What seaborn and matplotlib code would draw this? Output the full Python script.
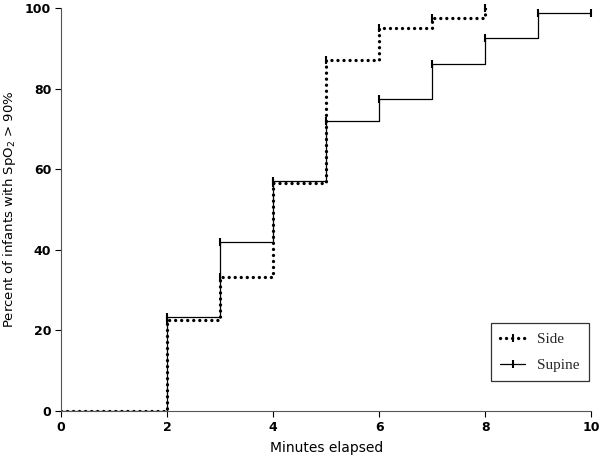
import pandas as pd
import matplotlib.pyplot as plt
import seaborn as sns

# step times (minutes) and cumulative percent reaching SpO2 > 90%
side_time = [0, 2, 3, 4, 5, 6, 7, 8]
side_pct = [0, 22.7, 33.3, 56.5, 87.2, 95.0, 97.4, 100.0]
supine_time = [0, 2, 3, 4, 5, 6, 7, 8, 9, 10]
supine_pct = [0, 23.2, 41.9, 57.0, 72.0, 77.3, 86.0, 92.5, 98.8, 98.8]

side = pd.DataFrame({'time': side_time, 'pct': side_pct})
supine = pd.DataFrame({'time': supine_time, 'pct': supine_pct})

sns.set_style('ticks')
fig = plt.figure(figsize=(6, 4.59), dpi=100)
ax = fig.add_axes([0.1017, 0.1046, 0.884, 0.878])

sns.lineplot(data=supine, x='time', y='pct', drawstyle='steps-post', color='black',
             linewidth=0.9, ax=ax, label='Supine')
sns.lineplot(data=side, x='time', y='pct', drawstyle='steps-post', color='black',
             linewidth=2.4, linestyle=(0, (0.01, 1.8)), ax=ax, label='Side')
for ln in ax.lines:
    ln.set_dash_capstyle('round')
# censor ticks at each step
sns.scatterplot(data=supine[1:], x='time', y='pct', marker='|', color='black', s=30,
                linewidth=1.5, ax=ax, legend=False, clip_on=False)
sns.scatterplot(data=side[1:], x='time', y='pct', marker='|', color='black', s=30,
                linewidth=1.5, ax=ax, legend=False, clip_on=False)

ax.set_xlim(0, 10)
ax.set_ylim(0, 100)
ax.set_xticks([0, 2, 4, 6, 8, 10])
ax.set_yticks([0, 20, 40, 60, 80, 100])
for lab in ax.get_xticklabels() + ax.get_yticklabels():
    lab.set_fontweight('bold')
    lab.set_fontsize(9)
ax.tick_params(direction='out', length=4, width=0.8, colors='black', pad=3)
for s in ['top', 'right']:
    ax.spines[s].set_visible(False)
for s in ['left', 'bottom']:
    ax.spines[s].set_color('#555555')
    ax.spines[s].set_linewidth(0.8)

ax.set_xlabel('Minutes elapsed', fontsize=10, color='black', labelpad=5)
ax.set_ylabel('Percent of infants with SpO$_2$ > 90%', fontsize=9.5, color='black', labelpad=5)

h, l = ax.get_legend_handles_labels()
order = [l.index('Side'), l.index('Supine')]
leg = ax.legend([h[i] for i in order], [l[i] for i in order], loc='lower right',
                bbox_to_anchor=(0.995, 0.074), borderaxespad=0, fancybox=False,
                edgecolor='black', prop={'family': 'Liberation Serif', 'size': 11},
                handlelength=1.6, borderpad=0.6, labelspacing=0.8, handletextpad=0.8,
                numpoints=1)
leg.get_frame().set_linewidth(0.9)
for lh in leg.legend_handles:
    lh.set_marker('|')
    lh.set_markersize(6)
    lh.set_markeredgewidth(1.5)
    lh.set_markeredgecolor('black')

fig.savefig('out.png', dpi=100)
